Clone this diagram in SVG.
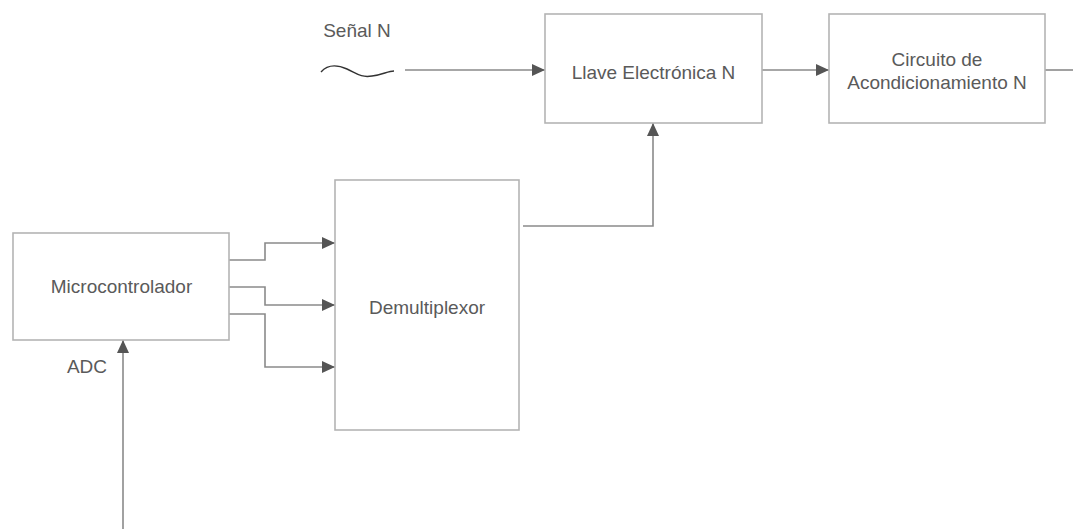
<svg xmlns="http://www.w3.org/2000/svg" width="1073" height="529" viewBox="0 0 1073 529">
  <style>
    .box { fill: #ffffff; stroke: #b4b4b4; stroke-width: 1.6; }
    .lbl { font-family: "Liberation Sans", Arial, sans-serif; font-size: 19px; fill: #5a5a5a; text-anchor: middle; }
    .conn { fill: none; stroke: #8a8a8a; stroke-width: 1.6; }
    .wave { fill: none; stroke: #333333; stroke-width: 1.4; }
  </style>
  <defs>
    <marker id="arrow" markerUnits="userSpaceOnUse" markerWidth="14" markerHeight="12" refX="13" refY="6" orient="auto">
      <path d="M0,0 L13,6 L0,12 Z" fill="#555555"/>
    </marker>
  </defs>
  <rect width="1073" height="529" fill="#ffffff"/>

  <g id="connectors">
    <path class="conn" d="M405,70 L545,70" marker-end="url(#arrow)"/>
    <path class="conn" d="M762,70 L829,70" marker-end="url(#arrow)"/>
    <path class="conn" d="M1045,70 L1073,70"/>
    <path class="conn" d="M523,226 L653,226 L653,123" marker-end="url(#arrow)"/>
    <path class="conn" d="M229,260 L265,260 L265,243 L335,243" marker-end="url(#arrow)"/>
    <path class="conn" d="M229,287 L265,287 L265,305 L335,305" marker-end="url(#arrow)"/>
    <path class="conn" d="M229,314 L265,314 L265,367 L335,367" marker-end="url(#arrow)"/>
    <path class="conn" d="M123,529 L123,340" marker-end="url(#arrow)"/>
  </g>

  <g id="senal">
    <path class="wave" d="M321,72 C328,64 338,65 347,69 C356,73 361,78 372,76 C382,75 388,71 394,71"/>
    <text class="lbl" x="357" y="37">Señal N</text>
  </g>

  <g id="llave">
    <rect class="box" x="545" y="14" width="217" height="109"/>
    <text class="lbl" x="653.5" y="79">Llave Electrónica N</text>
  </g>

  <g id="circuito">
    <rect class="box" x="829" y="14" width="216" height="109"/>
    <text class="lbl" x="937" y="66">Circuito de</text>
    <text class="lbl" x="937" y="89">Acondicionamiento N</text>
  </g>

  <g id="microcontrolador">
    <rect class="box" x="13" y="233" width="216" height="107"/>
    <text class="lbl" x="121.5" y="293">Microcontrolador</text>
  </g>

  <g id="adc">
    <text class="lbl" x="87" y="373">ADC</text>
  </g>

  <g id="demultiplexor">
    <rect class="box" x="335" y="180" width="184" height="250"/>
    <text class="lbl" x="427" y="314">Demultiplexor</text>
  </g>
</svg>
